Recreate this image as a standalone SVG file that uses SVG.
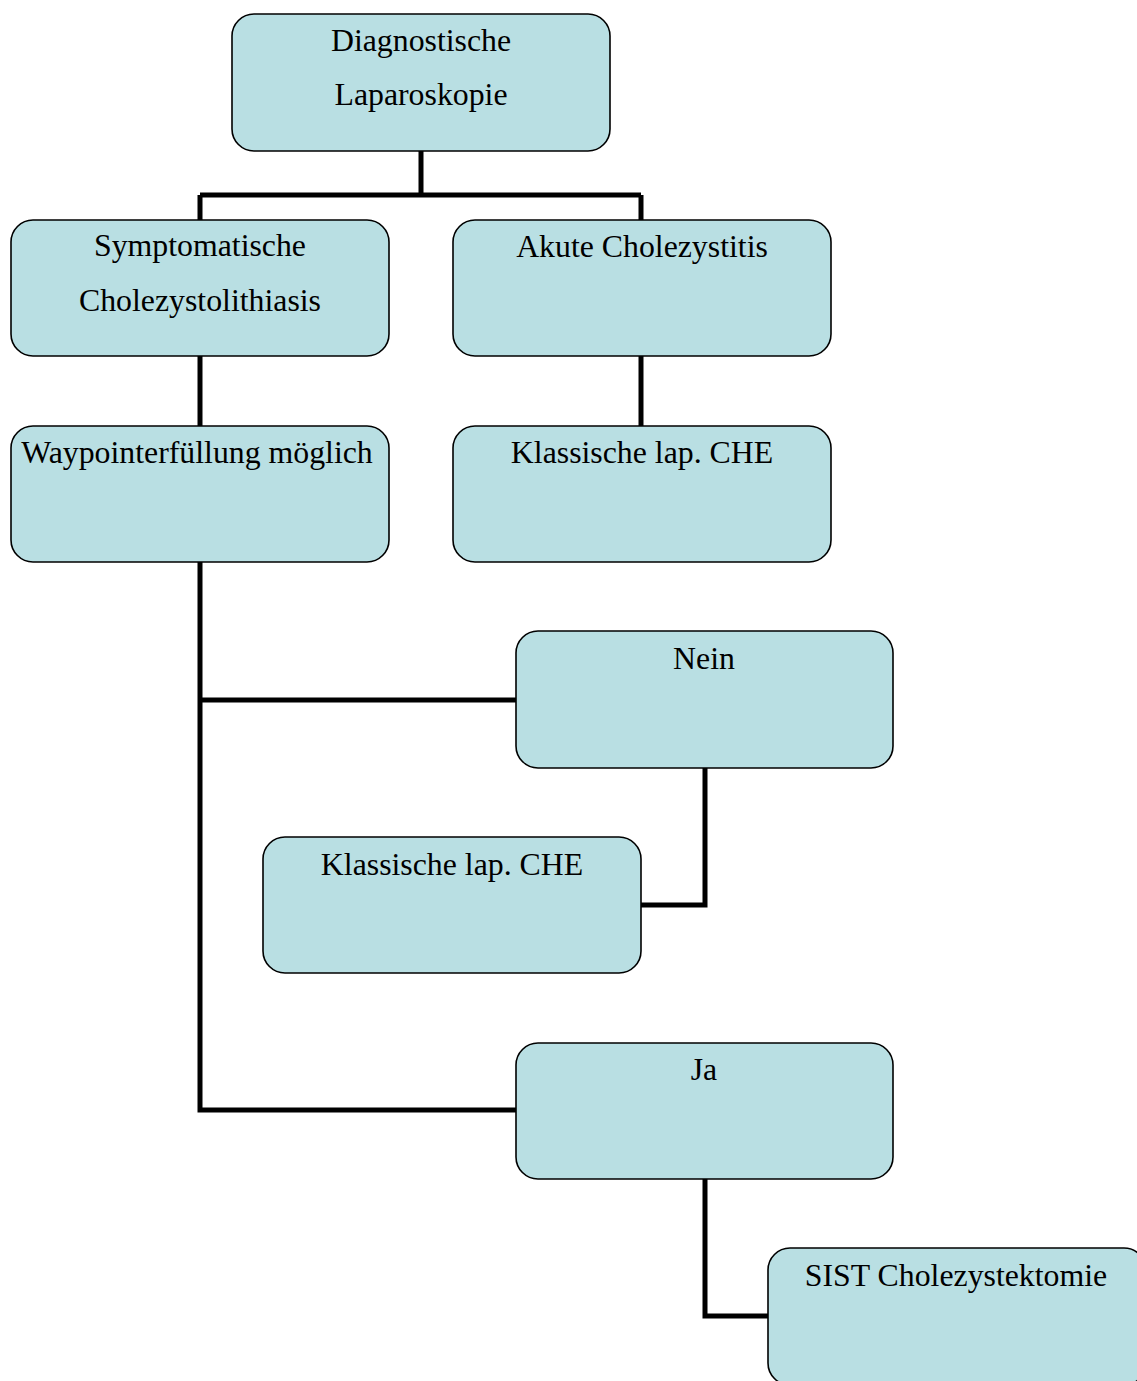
<svg xmlns="http://www.w3.org/2000/svg" width="1137" height="1381" viewBox="0 0 1137 1381">
<style>
.n rect{fill:#b9dfe3;stroke:#000;stroke-width:1.6}
.n text{font-family:"Liberation Serif","Times New Roman",serif;font-size:31.8px;fill:#000;text-anchor:middle}
#connectors path{fill:none;stroke:#000;stroke-width:5}
</style>
<rect width="1137" height="1381" fill="#fff"/>
<g id="connectors">
<path d="M421,151 V195 M200,195 H641 M200,195 V220 M641,195 V220"/>
<path d="M200,356 V426"/>
<path d="M641,356 V426"/>
<path d="M200,562 V1110 H516 M200,700 H516"/>
<path d="M705,768 V905 H641"/>
<path d="M705,1179 V1316 H768"/>
</g>
<g id="n1" class="n"><rect x="232" y="14" width="378" height="137" rx="22"/><text x="421" y="51">Diagnostische</text><text x="421" y="105">Laparoskopie</text></g>
<g id="n2" class="n"><rect x="11" y="220" width="378" height="136" rx="22"/><text x="200" y="256">Symptomatische</text><text x="200" y="311">Cholezystolithiasis</text></g>
<g id="n3" class="n"><rect x="453" y="220" width="378" height="136" rx="22"/><text x="642" y="257">Akute Cholezystitis</text></g>
<g id="n4" class="n"><rect x="11" y="426" width="378" height="136" rx="22"/><text x="197" y="463">Waypointerfüllung möglich</text></g>
<g id="n5" class="n"><rect x="453" y="426" width="378" height="136" rx="22"/><text x="642" y="463">Klassische lap. CHE</text></g>
<g id="n6" class="n"><rect x="516" y="631" width="377" height="137" rx="22"/><text x="704" y="669">Nein</text></g>
<g id="n7" class="n"><rect x="263" y="837" width="378" height="136" rx="22"/><text x="452" y="875">Klassische lap. CHE</text></g>
<g id="n8" class="n"><rect x="516" y="1043" width="377" height="136" rx="22"/><text x="704" y="1080">Ja</text></g>
<g id="n9" class="n"><rect x="768" y="1248" width="378" height="137" rx="22"/><text x="956" y="1286">SIST Cholezystektomie</text></g>
</svg>
